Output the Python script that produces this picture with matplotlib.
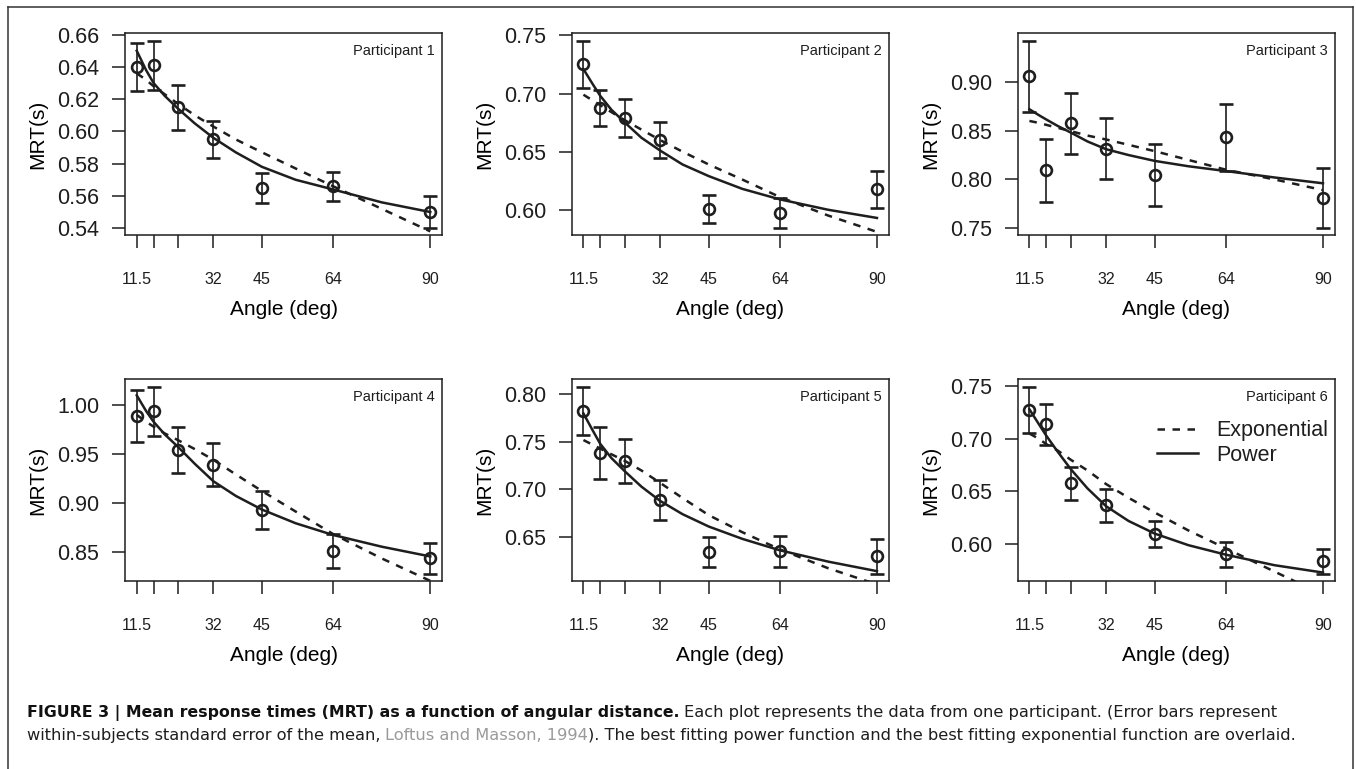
import matplotlib
matplotlib.use('Agg')
import matplotlib.pyplot as plt
from matplotlib.lines import Line2D
from matplotlib.ticker import MultipleLocator, FormatStrFormatter

plt.rcParams.update({
    'font.family': 'Liberation Sans',
    'text.color': '#1e1e1e',
    'axes.edgecolor': '#1e1e1e',
    'xtick.color': '#1e1e1e',
    'ytick.color': '#1e1e1e',
})

# Winkel (Grad) und Tick-Beschriftungen
angles = [11.5, 16, 22.6, 32, 45, 64, 90]
angle_labels = ['11.5', '', '', '32', '45', '64', '90']

# Stützstellen der Fit-Kurven
fit_x = [11.5, 14, 16, 19, 22.6, 27, 32, 38, 45, 54, 64, 77, 90]

# Mittelwerte (MRT, s) und Standardfehler je Teilnehmer
mrt_p1 = [0.640, 0.641, 0.615, 0.595, 0.565, 0.566, 0.550]
se_p1 = [0.0150, 0.0152, 0.0140, 0.0113, 0.0095, 0.0090, 0.0098]
mrt_p2 = [0.7252, 0.6874, 0.6789, 0.6600, 0.6007, 0.5974, 0.6175]
se_p2 = [0.0202, 0.0156, 0.0165, 0.0153, 0.0122, 0.0129, 0.0158]
mrt_p3 = [0.9058, 0.8094, 0.8574, 0.8315, 0.8044, 0.8431, 0.7809]
se_p3 = [0.0365, 0.0321, 0.0317, 0.0314, 0.0316, 0.0347, 0.0306]
mrt_p4 = [0.9886, 0.9936, 0.9538, 0.9391, 0.8924, 0.8506, 0.8430]
se_p4 = [0.0267, 0.0252, 0.0235, 0.0218, 0.0193, 0.0179, 0.0158]
mrt_p5 = [0.7829, 0.7381, 0.7300, 0.6892, 0.6341, 0.6348, 0.6296]
se_p5 = [0.0252, 0.0273, 0.0235, 0.0210, 0.0159, 0.0166, 0.0184]
mrt_p6 = [0.7275, 0.7139, 0.6577, 0.6369, 0.6095, 0.5903, 0.5837]
se_p6 = [0.0219, 0.0194, 0.0155, 0.0157, 0.0127, 0.0116, 0.0119]

# Fit-Kurven: Potenzfunktion und Exponentialfunktion
power_p1 = [0.650, 0.638, 0.630, 0.622, 0.614, 0.605, 0.596, 0.587, 0.578, 0.570, 0.564, 0.556, 0.550]
expo_p1 = [0.636, 0.632, 0.628, 0.623, 0.617, 0.610, 0.603, 0.595, 0.587, 0.577, 0.566, 0.552, 0.538]
power_p2 = [0.721, 0.708, 0.698, 0.686, 0.675, 0.662, 0.651, 0.639, 0.629, 0.618, 0.609, 0.600, 0.593]
expo_p2 = [0.699, 0.694, 0.690, 0.684, 0.677, 0.669, 0.660, 0.650, 0.639, 0.626, 0.611, 0.595, 0.581]
power_p3 = [0.872, 0.866, 0.8615, 0.855, 0.848, 0.839, 0.831, 0.825, 0.819, 0.8135, 0.8086, 0.802, 0.796]
expo_p3 = [0.860, 0.858, 0.856, 0.853, 0.8495, 0.845, 0.841, 0.8355, 0.829, 0.820, 0.810, 0.800, 0.789]
power_p4 = [1.010, 0.994, 0.983, 0.970, 0.957, 0.940, 0.922, 0.907, 0.893, 0.879, 0.867, 0.855, 0.845]
expo_p4 = [0.990, 0.983, 0.978, 0.971, 0.964, 0.955, 0.944, 0.929, 0.912, 0.891, 0.868, 0.843, 0.820]
power_p5 = [0.780, 0.762, 0.748, 0.733, 0.719, 0.703, 0.688, 0.674, 0.661, 0.648, 0.636, 0.624, 0.614]
expo_p5 = [0.752, 0.747, 0.743, 0.737, 0.730, 0.720, 0.707, 0.691, 0.673, 0.655, 0.637, 0.617, 0.600]
power_p6 = [0.728, 0.714, 0.703, 0.688, 0.671, 0.653, 0.636, 0.622, 0.610, 0.599, 0.590, 0.580, 0.573]
expo_p6 = [0.705, 0.700, 0.695, 0.689, 0.680, 0.670, 0.657, 0.644, 0.630, 0.613, 0.596, 0.574, 0.552]

participants = ['Participant 1', 'Participant 2', 'Participant 3',
                'Participant 4', 'Participant 5', 'Participant 6']
mrt_all = [mrt_p1, mrt_p2, mrt_p3, mrt_p4, mrt_p5, mrt_p6]
se_all = [se_p1, se_p2, se_p3, se_p4, se_p5, se_p6]
power_all = [power_p1, power_p2, power_p3, power_p4, power_p5, power_p6]
expo_all = [expo_p1, expo_p2, expo_p3, expo_p4, expo_p5, expo_p6]
y_steps = [0.02, 0.05, 0.05, 0.05, 0.05, 0.05]

W, H = 1356, 769
fig = plt.figure(figsize=(W / 100, H / 100), dpi=100)

lefts = [125, 571.7, 1017.7]
tops = [33.3, 379.3]
ax_w, ax_h = 317, 202

ink = '#1e1e1e'
for i in range(6):
    row, col = divmod(i, 3)
    ax = fig.add_axes([lefts[col] / W, 1 - (tops[row] + ax_h) / H, ax_w / W, ax_h / H])

    ax.plot(fit_x, expo_all[i], color=ink, lw=1.8, dashes=(3.0, 3.0), label='Exponential')
    ax.plot(fit_x, power_all[i], color=ink, lw=1.8, label='Power',
            solid_joinstyle='round')
    ax.errorbar(angles, mrt_all[i], yerr=se_all[i], fmt='o', color=ink, ms=7.8,
                mfc='none', mew=1.9, elinewidth=1.2, capsize=4.8, capthick=1.2)

    # Achsenbereich wie in R: 4 % Rand um die Fehlerbalken
    lo = min(m - s for m, s in zip(mrt_all[i], se_all[i]))
    hi = max(m + s for m, s in zip(mrt_all[i], se_all[i]))
    r = hi - lo
    ax.set_ylim(lo - 0.04 * r, hi + 0.04 * r)
    xr = angles[-1] - angles[0]
    ax.set_xlim(angles[0] - 0.04 * xr, angles[-1] + 0.04 * xr)

    ax.set_xticks(angles)
    ax.set_xticklabels(angle_labels)
    ax.yaxis.set_major_locator(MultipleLocator(y_steps[i]))
    ax.yaxis.set_major_formatter(FormatStrFormatter('%.2f'))
    ax.tick_params(axis='x', direction='out', length=9.5, width=1.1, pad=17, labelsize=11.5)
    ax.tick_params(axis='y', direction='out', length=9.5, width=1.1, pad=9, labelsize=15.5)
    for sp in ax.spines.values():
        sp.set_linewidth(1.1)

    ax.set_xlabel('Angle (deg)', fontsize=15)
    ax.xaxis.set_label_coords(0.5, -0.32)
    ax.set_ylabel('MRT(s)', fontsize=15)
    ax.yaxis.set_label_coords(-0.245, 0.5)

    ax.text(0.978, 0.945, participants[i], transform=ax.transAxes,
            ha='right', va='top', fontsize=10.5)

    if i == 5:
        ax.legend(loc='upper right', bbox_to_anchor=(1.019, 0.86), frameon=False,
                  fontsize=15.5, handlelength=1.9, handletextpad=0.85,
                  labelspacing=0.15, borderaxespad=0.2)

# Rahmen um die Abbildung
frame_kw = dict(transform=fig.transFigure, color='#333333', lw=1.1)
fig.add_artist(Line2D([8 / W, 1353 / W], [1 - 7.3 / H, 1 - 7.3 / H], **frame_kw))
fig.add_artist(Line2D([8 / W, 8 / W], [1 - 7.3 / H, 0], **frame_kw))
fig.add_artist(Line2D([1353 / W, 1353 / W], [1 - 7.3 / H, 0], **frame_kw))

# Bildunterschrift mit gemischten Schriftschnitten
caption_1 = [('FIGURE 3 | Mean response times (MRT) as a function of angular distance.', 'bold', '#111111'),
             ('Each plot represents the data from one participant. (Error bars represent', 'normal', '#1e1e1e')]
caption_2 = [('within-subjects standard error of the mean,', 'normal', '#1e1e1e'),
             ('Loftus and Masson, 1994', 'normal', '#9a9a9a'),
             ('). The best fitting power function and the best fitting exponential function are overlaid.', 'normal', '#1e1e1e')]
cap_font = 'DejaVu Sans'
cap_size = {'bold': 11.3, 'normal': 11.7}

renderer = fig.canvas.get_renderer()
probe = fig.text(0, 0, 'a a', fontsize=cap_size['normal'], family=cap_font)
w_sp = probe.get_window_extent(renderer).width
probe.set_text('aa')
w_sp -= probe.get_window_extent(renderer).width
probe.remove()


def draw_line(runs, x0, baseline, gaps):
    x = x0
    for (txt, weight, color), gap in zip(runs, gaps):
        t = fig.text(x / W, 1 - baseline / H, txt, fontsize=cap_size[weight], fontweight=weight,
                     family=cap_font, color=color, ha='left', va='baseline')
        x = t.get_window_extent(renderer).x1 + gap


draw_line(caption_1, 26.7, 717, [w_sp, 0])
draw_line(caption_2, 26.7, 740, [w_sp, 0, 0])

fig.savefig('out.png', dpi=100)
